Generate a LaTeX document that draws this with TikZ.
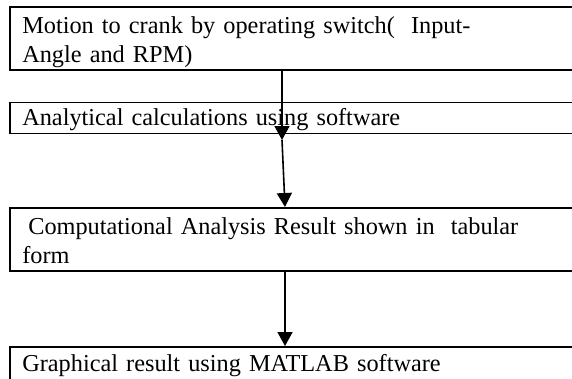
\documentclass[tikz,border=0pt]{standalone}
\usepackage{fontspec}
\setmainfont{Liberation Serif}
\usetikzlibrary{arrows.meta}

% struts: height above the first baseline, depth below the last one
\newcommand{\tophold}[1]{\rule{0pt}{#1}}
\newcommand{\bothold}[1]{\rule[-#1]{0pt}{#1}}

\begin{document}
\begin{tikzpicture}[
  x=1pt, y=-1pt,
  stepbox/.style={draw, line width=1.6pt, anchor=north west, align=left,
    text width=560pt, inner xsep=12.5pt, inner ysep=0pt,
    font=\fontsize{24.3}{28.5}\selectfont},
  flow/.style={line width=1.6pt, -{Triangle[length=14pt,width=15pt]}},
]
\useasboundingbox (0,0) rectangle (572,378);
\clip (0,0) rectangle (572,378);

\node [stepbox] (motion) at (9,6)
  {\tophold{27pt}Motion to crank by operating switch(\ \ Input-\\Angle and RPM)\bothold{7.5pt}};
\node [stepbox] (analytic) at (9,101.5)
  {\tophold{23.5pt}Analytical calculations using software\bothold{7.5pt}};
\node [stepbox] (result) at (9,207)
  {\tophold{27pt}\hspace*{6pt}Computational Analysis Result shown in\ \ tabular\\form\bothold{7.5pt}};
\node [stepbox] (graph) at (9,346)
  {\tophold{25pt}Graphical result using MATLAB software\bothold{12pt}};

% arrow ends
\coordinate (tip1) at (282,140);
\coordinate (col2) at (285,0);

\draw [flow] (motion.south -| tip1) -- (tip1);
\draw [flow] (tip1) -- (col2 |- result.north);
\draw [flow] (col2 |- result.south) -- (col2 |- graph.north);

\end{tikzpicture}
\end{document}
